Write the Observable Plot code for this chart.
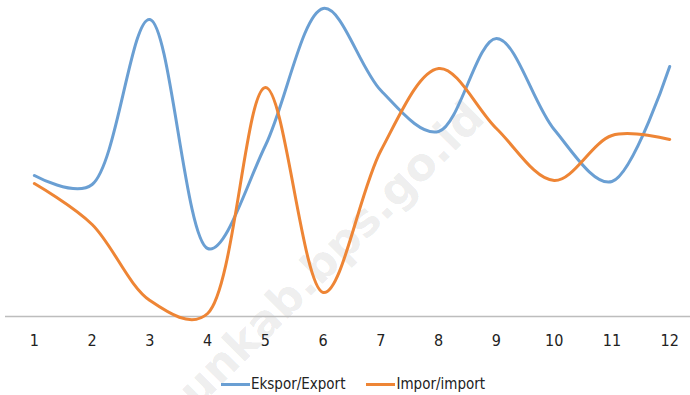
<!DOCTYPE html>
<html>
<head>
<meta charset="utf-8">
<script src="https://cdn.jsdelivr.net/npm/d3@7"></script>
<script src="https://cdn.jsdelivr.net/npm/@observablehq/plot@0.6"></script>
<style>
  body { margin: 0; background: #fff; font-family: "DejaVu Sans Condensed", "DejaVu Sans", sans-serif; font-stretch: condensed; }
  #wrap { position: relative; width: 690px; height: 395px; overflow: hidden; }
  .legend { position: absolute; left: 221px; top: 374px; display: flex; gap: 21px; font-size: 15px; color: #222; line-height: 20px; font-stretch: condensed; }
  .legend span.item { display: flex; align-items: center; }
  .legend span.sw { display: inline-block; width: 29px; height: 3px; margin-right: 1px; }
  .wm { position: absolute; left: 186px; top: 372px; line-height: 50px; transform: rotate(-45deg); transform-origin: left center; font: bold 45px "DejaVu Sans", sans-serif; color: rgba(0,0,0,0.085); white-space: nowrap; pointer-events: none; }
</style>
</head>
<body>
<div id="wrap"></div>
<script>
const months = [1, 2, 3, 4, 5, 6, 7, 8, 9, 10, 11, 12];
const exportValues = [141, 132, 297, 68, 171, 308, 226, 185, 278, 187, 135, 250];
const importValues = [133, 92, 16, 3, 229, 24, 166, 248, 188, 136, 181, 177];
const seriesNames = ["Ekspor/Export", "Impor/import"];
const seriesColors = ["#6A9FD3", "#EE8535"];

const data = [
  ...months.map((m, i) => ({month: m, value: exportValues[i], series: seriesNames[0]})),
  ...months.map((m, i) => ({month: m, value: importValues[i], series: seriesNames[1]}))
];

const chart = Plot.plot({
  width: 690,
  height: 355,
  marginTop: 5,
  marginBottom: 39,
  marginLeft: 5,
  marginRight: 0,
  style: {fontFamily: '"DejaVu Sans Condensed", "DejaVu Sans", sans-serif', fontStretch: "condensed", fontSize: "16px", color: "#222", background: "transparent"},
  x: {domain: [0.5, 12.36], ticks: months, tickSize: 0, tickPadding: 18, tickFormat: d => String(d), label: null},
  y: {domain: [0, 311], axis: null},
  color: {domain: seriesNames, range: seriesColors},
  marks: [
    Plot.ruleY([0], {stroke: "#bdbdbd", strokeWidth: 1.5}),
    Plot.line(data, {x: "month", y: "value", z: "series", stroke: "series", strokeWidth: 3, curve: "catmull-rom", tension: 0.35})
  ]
});
const wrap = document.getElementById("wrap");

const wm = document.createElement("div");
wm.className = "wm";
wm.textContent = "unkab.bps.go.id";
wrap.appendChild(wm);

chart.style.position = "relative";
wrap.appendChild(chart);

const legend = document.createElement("div");
legend.className = "legend";
seriesNames.forEach((n, i) => {
  const it = document.createElement("span");
  it.className = "item";
  const sw = document.createElement("span");
  sw.className = "sw";
  sw.style.background = seriesColors[i];
  it.appendChild(sw);
  it.appendChild(document.createTextNode(n));
  legend.appendChild(it);
});
wrap.appendChild(legend);
</script>
</body>
</html>
